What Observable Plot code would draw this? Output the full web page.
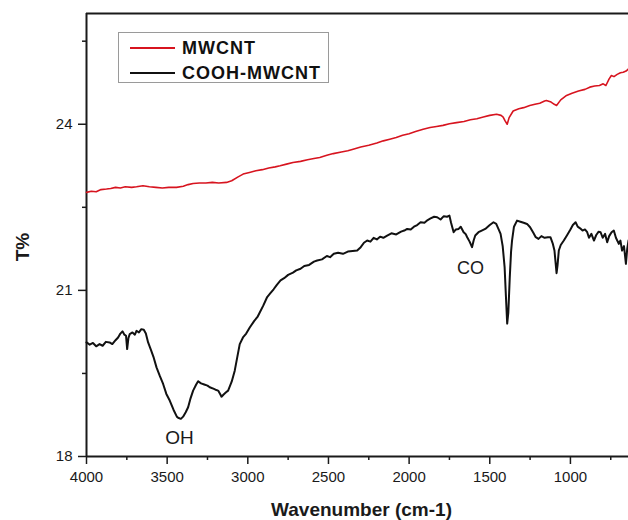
<!DOCTYPE html>
<html>
<head>
<meta charset="utf-8">
<script src="https://cdn.jsdelivr.net/npm/d3@7"></script>
<script src="https://cdn.jsdelivr.net/npm/@observablehq/plot@0.6"></script>
<style>
  html, body { margin: 0; padding: 0; background: #fff; }
  #wrap { position: relative; width: 628px; height: 520px; font-family: "Liberation Sans", Arial, sans-serif; }
  .legend { position: absolute; left: 118px; top: 32px; width: 211px; height: 51px; border: 1px solid #9a9a9a; box-sizing: border-box; background: #fff; }
  .item { position: absolute; left: 0; height: 20px; width: 100%; }
  .item .sw { position: absolute; left: 11px; top: 9px; width: 45px; height: 0; border-top-width: 2px; border-top-style: solid; }
  .item .lb { position: absolute; left: 63px; top: 0px; font-weight: bold; font-size: 18px; letter-spacing: 1px; line-height: 20px; color: #111; white-space: nowrap; }
</style>
</head>
<body>
<div id="wrap"></div>
<script>
// ---------- data ----------
const seriesNames = ["MWCNT", "COOH-MWCNT"];
const seriesColors = ["#d7141f", "#111111"];

const xMajorTicks = [4000, 3500, 3000, 2500, 2000, 1500, 1000];
const xMinorTicks = [3750, 3250, 2750, 2250, 1750, 1250, 750];
const yMajorTicks = [18, 21, 24];
const yMinorTicks = [19.5, 22.5, 25.5];

const mwcntWn = [4000,3970,3940,3910,3876,3850,3820,3790,3760,3720,3690,3650,3610,3570,3530,3490,3442,3400,3370,3339,3300,3260,3220,3180,3132,3100,3060,3029,2990,2950,2910,2870,2830,2800,2760,2720,2673,2630,2590,2554,2510,2470,2420,2380,2347,2300,2250,2200,2160,2120,2080,2040,2000,1960,1913,1870,1830,1790,1750,1706,1660,1620,1580,1540,1500,1458,1430,1417,1405,1392,1380,1355,1320,1290,1252,1220,1190,1160,1149,1120,1100,1086,1060,1024,990,950,910,880,850,820,797,780,760,746,730,710,690,673,655,640];
const mwcntT = [22.77,22.79,22.78,22.82,22.83,22.84,22.86,22.85,22.87,22.86,22.87,22.89,22.87,22.86,22.85,22.86,22.86,22.88,22.91,22.93,22.94,22.94,22.95,22.94,22.95,22.98,23.05,23.10,23.13,23.16,23.18,23.21,23.23,23.25,23.28,23.31,23.33,23.36,23.38,23.40,23.44,23.47,23.50,23.52,23.55,23.59,23.62,23.66,23.70,23.73,23.76,23.80,23.83,23.87,23.91,23.94,23.96,23.98,24.01,24.03,24.05,24.08,24.10,24.13,24.16,24.18,24.16,24.13,24.06,24.00,24.12,24.24,24.28,24.30,24.34,24.36,24.38,24.42,24.43,24.40,24.36,24.34,24.44,24.52,24.56,24.60,24.63,24.67,24.69,24.70,24.73,24.70,24.82,24.88,24.86,24.90,24.93,24.94,24.96,25.00];

const coohWn = [4000,3980,3960,3940,3919,3900,3880,3857,3840,3820,3804,3790,3777,3765,3755,3748,3740,3732,3715,3700,3690,3675,3660,3645,3632,3618,3600,3585,3566,3545,3525,3505,3484,3460,3440,3432,3415,3401,3385,3370,3355,3339,3320,3308,3290,3270,3250,3236,3210,3195,3184,3170,3163,3150,3135,3122,3100,3081,3065,3050,3030,3010,2988,2960,2940,2926,2905,2880,2860,2840,2820,2797,2775,2750,2720,2700,2673,2650,2620,2590,2570,2540,2510,2490,2467,2440,2410,2380,2350,2322,2300,2280,2260,2240,2220,2200,2180,2160,2136,2110,2080,2050,2030,2012,1990,1970,1950,1929,1905,1885,1867,1845,1826,1805,1785,1765,1750,1740,1724,1710,1693,1680,1662,1650,1640,1625,1610,1600,1590,1570,1550,1528,1500,1477,1460,1445,1433,1420,1408,1400,1392,1385,1376,1368,1362,1350,1331,1310,1290,1269,1250,1230,1215,1198,1180,1160,1140,1124,1110,1099,1092,1086,1080,1072,1060,1041,1020,1000,985,968,955,940,925,910,896,885,870,854,840,825,813,800,785,772,760,745,731,718,700,690,680,668,656,648,640];
const coohT = [20.06,20.02,20.05,19.99,20.03,20.00,20.07,20.06,20.03,20.10,20.15,20.22,20.26,20.20,20.18,19.94,20.14,20.21,20.24,20.20,20.27,20.24,20.30,20.29,20.22,20.06,19.92,19.80,19.61,19.45,19.31,19.13,19.01,18.84,18.72,18.70,18.68,18.72,18.80,18.89,19.05,19.19,19.30,19.36,19.32,19.30,19.28,19.25,19.22,19.20,19.19,19.12,19.08,19.12,19.16,19.19,19.35,19.55,19.80,20.03,20.15,20.22,20.33,20.45,20.52,20.60,20.72,20.88,20.95,21.02,21.10,21.18,21.22,21.28,21.32,21.36,21.39,21.44,21.46,21.52,21.54,21.56,21.62,21.60,21.66,21.68,21.66,21.70,21.71,21.72,21.78,21.86,21.90,21.88,21.95,21.92,21.97,21.95,21.99,22.03,22.01,22.06,22.08,22.11,22.10,22.15,22.18,22.23,22.22,22.27,22.30,22.33,22.32,22.28,22.34,22.33,22.35,22.22,22.05,22.10,22.11,22.15,22.05,22.02,21.96,21.88,21.78,21.90,21.99,22.05,22.08,22.11,22.18,22.23,22.20,22.10,22.02,21.80,21.42,20.90,20.40,20.60,21.24,21.70,21.90,22.15,22.26,22.24,22.22,22.20,22.14,22.04,21.96,21.93,21.98,21.95,21.96,21.96,21.85,21.72,21.50,21.31,21.45,21.72,21.82,21.90,22.00,22.10,22.18,22.23,22.15,22.12,22.08,22.10,22.05,21.95,22.02,21.90,22.00,22.06,22.05,21.95,22.02,21.87,21.98,22.05,22.08,21.95,21.84,21.90,21.72,21.80,21.48,21.75,21.90];

const annotations = [
  {label: "OH", wn: 3424, t: 18.34, size: 19},
  {label: "CO", wn: 1620, t: 21.40, size: 18}
];

// ---------- build ----------
const mwcnt = mwcntWn.map((w, i) => ({wn: w, t: mwcntT[i]}));
const cooh = coohWn.map((w, i) => ({wn: w, t: coohT[i]}));
const fmt = d => String(d);
const blank = () => "";

const chart = Plot.plot({
  width: 628,
  height: 520,
  marginLeft: 86,
  marginRight: 0,
  marginTop: 13,
  marginBottom: 64,
  style: {fontFamily: "'Liberation Sans', Arial, sans-serif", fontSize: "15px", color: "#1a1a1a", background: "#fff", overflow: "visible"},
  x: {domain: [4000, 640]},
  y: {domain: [18, 26]},
  marks: [
    Plot.axisX({ticks: xMajorTicks, tickSize: 8, tickPadding: 7, tickFormat: fmt, label: null, strokeWidth: 1.5, fontSize: 15}),
    Plot.axisX({ticks: xMinorTicks, tickSize: 4, tickFormat: blank, label: null, strokeWidth: 1.5}),
    Plot.axisY({ticks: yMajorTicks, tickSize: 8, tickPadding: 6, tickFormat: fmt, label: null, strokeWidth: 1.5, fontSize: 15}),
    Plot.axisY({ticks: yMinorTicks, tickSize: 4, tickFormat: blank, label: null, strokeWidth: 1.5}),
    Plot.ruleY([18], {stroke: "#1a1a1a", strokeWidth: 2}),
    Plot.ruleY([26], {stroke: "#1a1a1a", strokeWidth: 2}),
    Plot.ruleX([4000], {stroke: "#1a1a1a", strokeWidth: 2}),
    Plot.line(mwcnt, {x: "wn", y: "t", stroke: seriesColors[0], strokeWidth: 1.6}),
    Plot.line(cooh, {x: "wn", y: "t", stroke: seriesColors[1], strokeWidth: 2}),
    Plot.text(annotations, {x: "wn", y: "t", text: "label", fontSize: d => d.size, fill: "#1a1a1a"}),
    Plot.text(["Wavenumber (cm-1)"], {frameAnchor: "bottom", lineAnchor: "middle", dy: 53, dx: 4, fontWeight: "bold", fontSize: 19, fill: "#1a1a1a"}),
    Plot.text(["T%"], {frameAnchor: "left", textAnchor: "middle", lineAnchor: "middle", dx: -64, dy: 12, rotate: -90, fontWeight: "bold", fontSize: 19, fill: "#1a1a1a"})
  ]
});

const wrap = document.getElementById("wrap");
wrap.appendChild(chart);

// legend
const legend = document.createElement("div");
legend.className = "legend";
seriesNames.forEach((name, i) => {
  const item = document.createElement("div");
  item.className = "item";
  item.style.top = (i === 0 ? 5 : 30) + "px";
  const sw = document.createElement("div");
  sw.className = "sw";
  sw.style.borderTopColor = seriesColors[i];
  const lb = document.createElement("div");
  lb.className = "lb";
  lb.textContent = name;
  item.appendChild(sw);
  item.appendChild(lb);
  legend.appendChild(item);
});
wrap.appendChild(legend);
</script>
</body>
</html>
